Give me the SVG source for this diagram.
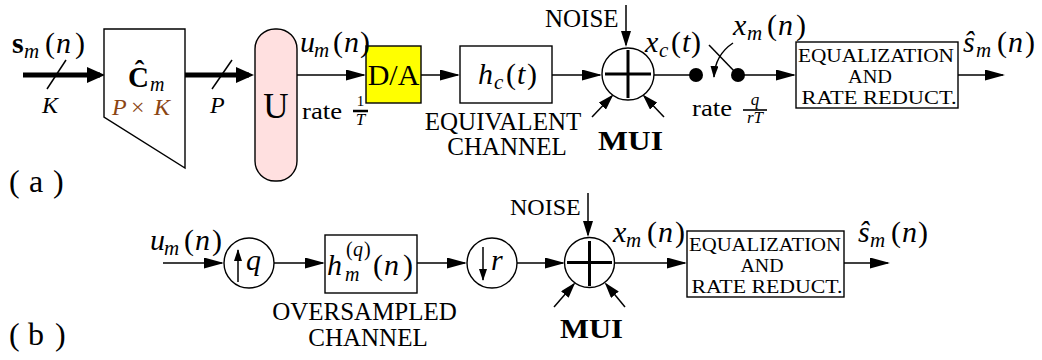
<svg xmlns="http://www.w3.org/2000/svg" width="1042" height="360" viewBox="0 0 1042 360">
<style>
.t{font-family:"Liberation Serif","DejaVu Serif",serif;font-size:30px;fill:#000}
.i{font-style:italic}
.b{font-weight:bold}
.sub{font-size:21px;font-style:italic}
.sm{font-size:24px}
.fr{font-size:17px}
.cap{font-family:"Liberation Serif","DejaVu Serif",serif;font-size:25px;fill:#000}
.eq{font-family:"Liberation Serif","DejaVu Serif",serif;font-size:19px;fill:#000;text-anchor:middle}
.box{fill:#fff;stroke:#000;stroke-width:1.4}
.ln{fill:none;stroke:#000;stroke-width:1.5}
.thick{fill:none;stroke:#000;stroke-width:5}
.cross{stroke:#000;stroke-width:3}
</style>
<defs>
<marker id="ah" markerUnits="userSpaceOnUse" markerWidth="20" markerHeight="11" refX="18" refY="5.5" orient="auto"><path d="M0,0 L20,5.5 L0,11 z" fill="#000"/></marker>
<marker id="ahT" markerUnits="userSpaceOnUse" markerWidth="18" markerHeight="16" refX="13" refY="8" orient="auto"><path d="M0,0 L18,8 L0,16 z" fill="#000"/></marker>
<marker id="ahS" markerUnits="userSpaceOnUse" markerWidth="16" markerHeight="10" refX="14" refY="5" orient="auto"><path d="M0,0 L16,5 L0,10 z" fill="#000"/></marker>
<marker id="ahX" markerUnits="userSpaceOnUse" markerWidth="12" markerHeight="8" refX="11" refY="4" orient="auto"><path d="M0,0 L12,4 L0,8 z" fill="#000"/></marker>
</defs>

<g id="connectors">
  <line class="thick" x1="23" y1="75" x2="100" y2="75" marker-end="url(#ahT)"/>
  <line class="ln" x1="66" y1="60" x2="47" y2="89"/>
  <line class="thick" x1="185" y1="75" x2="249" y2="75" marker-end="url(#ahT)"/>
  <line class="ln" x1="232" y1="60" x2="212" y2="89"/>
  <line class="ln" x1="297" y1="75" x2="364" y2="75" marker-end="url(#ah)"/>
  <line class="ln" x1="421" y1="75" x2="458" y2="75" marker-end="url(#ah)"/>
  <line class="ln" x1="552" y1="75" x2="600" y2="75" marker-end="url(#ah)"/>
  <line class="ln" x1="654" y1="75" x2="696" y2="75"/>
  <line class="ln" x1="738" y1="75" x2="794" y2="75" marker-end="url(#ah)"/>
  <line class="ln" x1="958" y1="75" x2="1003" y2="75" marker-end="url(#ah)"/>
  <line class="ln" x1="626" y1="5" x2="626" y2="45" marker-end="url(#ahS)"/>
  <line class="ln" x1="592" y1="117" x2="612" y2="96" marker-end="url(#ahS)"/>
  <line class="ln" x1="664" y1="117" x2="644" y2="96" marker-end="url(#ahS)"/>
  <line class="ln" x1="163" y1="263" x2="222" y2="263" marker-end="url(#ah)"/>
  <line class="ln" x1="274" y1="263" x2="323" y2="263" marker-end="url(#ah)"/>
  <line class="ln" x1="417" y1="263" x2="465" y2="263" marker-end="url(#ah)"/>
  <line class="ln" x1="517" y1="263" x2="563" y2="263" marker-end="url(#ah)"/>
  <line class="ln" x1="614" y1="263" x2="685" y2="263" marker-end="url(#ah)"/>
  <line class="ln" x1="844" y1="263" x2="888" y2="263" marker-end="url(#ah)"/>
  <line class="ln" x1="588" y1="193" x2="588" y2="235" marker-end="url(#ahS)"/>
  <line class="ln" x1="554" y1="307" x2="574" y2="284" marker-end="url(#ahS)"/>
  <line class="ln" x1="625" y1="307" x2="606" y2="284" marker-end="url(#ahS)"/>
</g>

<g id="node-C">
  <polygon class="box" points="104,29 185,29 185,168 104,117"/>
  <text class="t b" x="128" y="87" style="font-size:29px">Ĉ</text>
  <text class="t sub" x="150" y="91" style="font-size:20px">m</text>
  <text class="t sm" y="115" style="fill:#8B4513"><tspan x="112" class="i">P</tspan><tspan x="131">×</tspan><tspan x="154" class="i">K</tspan></text>
</g>

<g id="node-U">
  <rect x="255" y="29" width="42" height="152" rx="20" ry="20" fill="#FFE0E0" stroke="#000" stroke-width="1.4"/>
  <text class="t" x="276" y="118" style="font-size:35px" text-anchor="middle">U</text>
</g>

<g id="node-DA">
  <rect x="366" y="46" width="55" height="57" fill="#FFFF00" stroke="#000" stroke-width="1.4"/>
  <text class="t" x="393.5" y="85" text-anchor="middle">D/A</text>
</g>

<g id="node-hc">
  <rect class="box" x="460" y="46" width="92" height="57"/>
  <text class="t" y="84"><tspan x="478" class="i">h</tspan><tspan x="494" y="89" class="sub">c</tspan><tspan x="506" y="84">(</tspan><tspan x="517" class="i">t</tspan><tspan x="527">)</tspan></text>
</g>

<g id="node-sumA">
  <circle cx="628" cy="74" r="26" fill="#fff" stroke="#000" stroke-width="1.4"/>
  <line class="cross" x1="605" y1="74" x2="651" y2="74"/>
  <line class="cross" x1="628" y1="50" x2="628" y2="98"/>
</g>

<g id="node-switch">
  <circle cx="696" cy="75" r="7" fill="#000"/>
  <circle cx="738" cy="75" r="7" fill="#000"/>
  <line class="ln" x1="709" y1="45" x2="736" y2="73"/>
  <path class="ln" d="M733,43 Q715,55 714,77" marker-end="url(#ahX)"/>
</g>

<g id="node-eqA">
  <rect class="box" x="796" y="42" width="162" height="66"/>
  <text class="eq" x="876" y="62" textLength="156" lengthAdjust="spacingAndGlyphs">EQUALIZATION</text>
  <text class="eq" x="870" y="83" textLength="44" lengthAdjust="spacingAndGlyphs">AND</text>
  <text class="eq" x="879" y="104" textLength="155" lengthAdjust="spacingAndGlyphs">RATE REDUCT.</text>
</g>

<g id="node-up">
  <circle cx="249" cy="263" r="25" fill="#fff" stroke="#000" stroke-width="1.4"/>
  <line class="ln" x1="238" y1="282" x2="238" y2="250" marker-end="url(#ahX)"/>
  <text class="t i" x="246" y="270">q</text>
</g>

<g id="node-hq">
  <rect class="box" x="325" y="235" width="92" height="58"/>
  <text class="t" y="275"><tspan x="327" class="i">h</tspan><tspan x="345" y="281" class="sub" style="font-size:20px">m</tspan><tspan x="346" y="256" style="font-size:20px">(</tspan><tspan x="353" class="i" style="font-size:20px">q</tspan><tspan x="364" style="font-size:20px">)</tspan><tspan x="373" y="275">(</tspan><tspan x="384" class="i">n</tspan><tspan x="403">)</tspan></text>
</g>

<g id="node-down">
  <circle cx="492" cy="263" r="25" fill="#fff" stroke="#000" stroke-width="1.4"/>
  <line class="ln" x1="483" y1="247" x2="483" y2="280" marker-end="url(#ahX)"/>
  <text class="t i" x="491" y="270">r</text>
</g>

<g id="node-sumB">
  <circle cx="589.5" cy="262.5" r="25" fill="#fff" stroke="#000" stroke-width="1.4"/>
  <line class="cross" x1="567" y1="262.5" x2="612" y2="262.5"/>
  <line class="cross" x1="589.5" y1="241" x2="589.5" y2="286"/>
</g>

<g id="node-eqB">
  <rect class="box" x="687" y="231" width="157" height="66"/>
  <text class="eq" x="765" y="251" textLength="152" lengthAdjust="spacingAndGlyphs">EQUALIZATION</text>
  <text class="eq" x="762" y="272" textLength="43" lengthAdjust="spacingAndGlyphs">AND</text>
  <text class="eq" x="767" y="293" textLength="151" lengthAdjust="spacingAndGlyphs">RATE REDUCT.</text>
</g>

<g id="labels">
  <text class="t" y="53"><tspan x="12" class="b">s</tspan><tspan x="24" y="58" class="sub">m</tspan><tspan x="45" y="53">(</tspan><tspan x="56" class="i">n</tspan><tspan x="75">)</tspan></text>
  <text class="t i sm" x="42" y="113">K</text>
  <text class="t i sm" x="210" y="113">P</text>
  <text class="t" y="52"><tspan x="300" class="i">u</tspan><tspan x="314" y="57" class="sub">m</tspan><tspan x="333" y="52">(</tspan><tspan x="344" class="i">n</tspan><tspan x="360">)</tspan></text>
  <text class="t sm" x="302" y="119" textLength="40" lengthAdjust="spacingAndGlyphs">rate</text>
  <text class="t" x="360.5" y="106" style="font-size:15px" text-anchor="middle">1</text>
  <line x1="353" y1="111" x2="368" y2="111" stroke="#000" stroke-width="2.5"/>
  <text class="t i fr" x="360.5" y="125" text-anchor="middle">T</text>
  <text class="cap" x="503" y="130" text-anchor="middle">EQUIVALENT</text>
  <text class="cap" x="507" y="155" text-anchor="middle">CHANNEL</text>
  <text class="cap" x="545" y="27">NOISE</text>
  <text class="t b" x="598" y="150" style="font-size:28px" textLength="65" lengthAdjust="spacingAndGlyphs">MUI</text>
  <text class="t" y="52"><tspan x="645" class="i">x</tspan><tspan x="659" y="57" class="sub">c</tspan><tspan x="671" y="52">(</tspan><tspan x="682" class="i">t</tspan><tspan x="691">)</tspan></text>
  <text class="t" y="35"><tspan x="733" class="i">x</tspan><tspan x="747" y="40" class="sub">m</tspan><tspan x="767" y="35">(</tspan><tspan x="778" class="i">n</tspan><tspan x="796">)</tspan></text>
  <text class="t sm" x="692" y="116" textLength="40" lengthAdjust="spacingAndGlyphs">rate</text>
  <text class="t i fr" x="755" y="105" text-anchor="middle">q</text>
  <line x1="743" y1="110" x2="767" y2="110" stroke="#000" stroke-width="1.6"/>
  <text class="t i fr" x="755" y="123" text-anchor="middle">rT</text>
  <text class="t" y="52"><tspan x="963" class="i">ŝ</tspan><tspan x="976" y="57" class="sub">m</tspan><tspan x="997" y="52">(</tspan><tspan x="1008" class="i">n</tspan><tspan x="1025">)</tspan></text>
  <text class="t" y="192" style="font-size:32px"><tspan x="9">(</tspan><tspan x="29">a</tspan><tspan x="53">)</tspan></text>

  <text class="t" y="250"><tspan x="150" class="i">u</tspan><tspan x="164" y="255" class="sub">m</tspan><tspan x="184" y="250">(</tspan><tspan x="195" class="i">n</tspan><tspan x="212">)</tspan></text>
  <text class="cap" x="364.5" y="320" text-anchor="middle">OVERSAMPLED</text>
  <text class="cap" x="368" y="346" text-anchor="middle">CHANNEL</text>
  <text class="cap" x="510" y="215" style="font-size:24px">NOISE</text>
  <text class="t b" x="560" y="338" style="font-size:28px" textLength="63" lengthAdjust="spacingAndGlyphs">MUI</text>
  <text class="t" y="242"><tspan x="613" class="i">x</tspan><tspan x="626" y="247" class="sub">m</tspan><tspan x="647" y="242">(</tspan><tspan x="658" class="i">n</tspan><tspan x="675">)</tspan></text>
  <text class="t" y="242"><tspan x="858" class="i">ŝ</tspan><tspan x="870" y="247" class="sub">m</tspan><tspan x="891" y="242">(</tspan><tspan x="902" class="i">n</tspan><tspan x="918">)</tspan></text>
  <text class="t" y="345" style="font-size:32px"><tspan x="9">(</tspan><tspan x="28">b</tspan><tspan x="55">)</tspan></text>
</g>
</svg>
